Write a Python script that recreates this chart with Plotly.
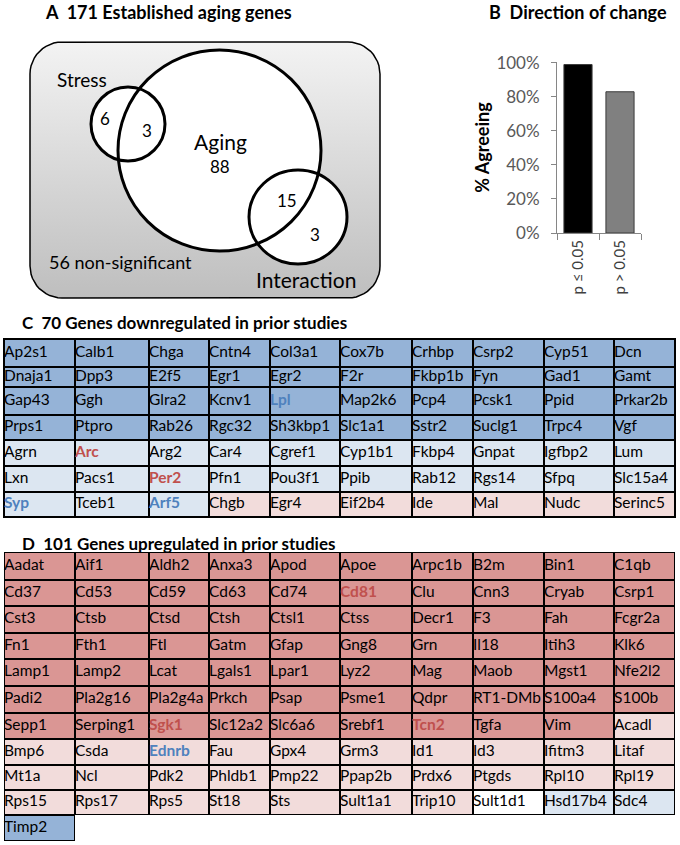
import math
import plotly.graph_objects as go

# ---- panel A: overlap of the 171 established aging genes ----
n_stress_only = 6
n_stress_aging = 3
n_aging_only = 88
n_aging_interaction = 15
n_interaction_only = 3
n_nonsig = 56

# ---- panel B: direction of change ----
bar_labels = ['p ≤ 0.05', 'p > 0.05']
bar_agree = [0.99, 0.83]

# ---- panel C: genes downregulated in prior studies ----
down_sig_down = ['Ap2s1', 'Calb1', 'Chga', 'Cntn4', 'Col3a1', 'Cox7b', 'Crhbp', 'Csrp2', 'Cyp51', 'Dcn',
                 'Dnaja1', 'Dpp3', 'E2f5', 'Egr1', 'Egr2', 'F2r', 'Fkbp1b', 'Fyn', 'Gad1', 'Gamt',
                 'Gap43', 'Ggh', 'Glra2', 'Kcnv1', 'Lpl', 'Map2k6', 'Pcp4', 'Pcsk1', 'Ppid', 'Prkar2b',
                 'Prps1', 'Ptpro', 'Rab26', 'Rgc32', 'Sh3kbp1', 'Slc1a1', 'Sstr2', 'Suclg1', 'Trpc4', 'Vgf']
down_ns_down = ['Agrn', 'Arc', 'Arg2', 'Car4', 'Cgref1', 'Cyp1b1', 'Fkbp4', 'Gnpat', 'Igfbp2', 'Lum',
                'Lxn', 'Pacs1', 'Per2', 'Pfn1', 'Pou3f1', 'Ppib', 'Rab12', 'Rgs14', 'Sfpq', 'Slc15a4',
                'Syp', 'Tceb1', 'Arf5']
down_ns_up = ['Chgb', 'Egr4', 'Eif2b4', 'Ide', 'Mal', 'Nudc', 'Serinc5']

# ---- panel D: genes upregulated in prior studies ----
up_sig_up = ['Aadat', 'Aif1', 'Aldh2', 'Anxa3', 'Apod', 'Apoe', 'Arpc1b', 'B2m', 'Bin1', 'C1qb',
             'Cd37', 'Cd53', 'Cd59', 'Cd63', 'Cd74', 'Cd81', 'Clu', 'Cnn3', 'Cryab', 'Csrp1',
             'Cst3', 'Ctsb', 'Ctsd', 'Ctsh', 'Ctsl1', 'Ctss', 'Decr1', 'F3', 'Fah', 'Fcgr2a',
             'Fn1', 'Fth1', 'Ftl', 'Gatm', 'Gfap', 'Gng8', 'Grn', 'Il18', 'Itih3', 'Klk6',
             'Lamp1', 'Lamp2', 'Lcat', 'Lgals1', 'Lpar1', 'Lyz2', 'Mag', 'Maob', 'Mgst1', 'Nfe2l2',
             'Padi2', 'Pla2g16', 'Pla2g4a', 'Prkch', 'Psap', 'Psme1', 'Qdpr', 'RT1-DMb', 'S100a4', 'S100b',
             'Sepp1', 'Serping1', 'Sgk1', 'Slc12a2', 'Slc6a6', 'Srebf1', 'Tcn2', 'Tgfa', 'Vim']
up_ns_up = ['Acadl',
            'Bmp6', 'Csda', 'Ednrb', 'Fau', 'Gpx4', 'Grm3', 'Id1', 'Id3', 'Ifitm3', 'Litaf',
            'Mt1a', 'Ncl', 'Pdk2', 'Phldb1', 'Pmp22', 'Ppap2b', 'Prdx6', 'Ptgds', 'Rpl10', 'Rpl19',
            'Rps15', 'Rps17', 'Rps5', 'St18', 'Sts', 'Sult1a1', 'Trip10']
up_nochange = ['Sult1d1']
up_ns_down = ['Hsd17b4', 'Sdc4']
up_sig_down = ['Timp2']

# genes written in coloured bold
mark_red = ['Arc', 'Per2', 'Cd81', 'Sgk1', 'Tcn2']
mark_blue = ['Lpl', 'Syp', 'Arf5', 'Ednrb']

# ---- styling / layout ----
W, H = 680, 845
FONT = 'Lato'
COL_EDGES = [4, 75, 149, 209, 270, 340, 412, 473, 544, 614, 675]
ROWS_C = [339, 367, 387, 415, 440, 466, 492, 517]
ROWS_D = [552, 580, 606, 633, 659, 686, 713, 739, 765, 790, 815, 841]
# 0 white, 1 dark blue, 2 light blue, 3 light pink, 4 dark red
CELL_SCALE = [[0, '#ffffff'], [0.125, '#ffffff'],
              [0.125, '#95b3d7'], [0.375, '#95b3d7'],
              [0.375, '#dce6f1'], [0.625, '#dce6f1'],
              [0.625, '#f2dcdb'], [0.875, '#f2dcdb'],
              [0.875, '#da9694'], [1, '#da9694']]


def px_x(x):
    return x / W


def px_y(y):
    return 1 - y / H


def vy(y):
    # venn axis runs upward, measured positions run downward
    return 310 - y


fig = go.Figure()

# ---------- panel A ----------
r = 32
x0, x1, y0, y1 = 30, 380, 42, 298
bx, by = [], []
for cx, cy, a0 in [(x1 - r, y0 + r, 0), (x0 + r, y0 + r, 90), (x0 + r, y1 - r, 180), (x1 - r, y1 - r, 270)]:
    for k in range(13):
        a = math.radians(a0 + 90 * k / 12)
        bx.append(cx + r * math.cos(a))
        by.append(vy(cy - r * math.sin(a)))
bx.append(bx[0])
by.append(by[0])
fig.add_trace(go.Scatter(
    x=bx, y=by, mode='lines', fill='toself',
    line=dict(color='black', width=1.5),
    fillgradient=dict(type='vertical', colorscale=[[0, '#bebebe'], [1, '#f3f3f3']],
                      start=vy(y1), stop=vy(y0)),
    hoverinfo='skip', showlegend=False,
    xaxis='x', yaxis='y',
))

circles = [(91, 165, 87, 161), (118, 321, 50, 251), (249, 347, 170, 264)]
for c in circles:
    fig.add_shape(type='circle', xref='x', yref='y', x0=c[0], x1=c[1], y0=vy(c[3]), y1=vy(c[2]),
                  fillcolor='white', line=dict(width=0))
for c in circles:
    fig.add_shape(type='circle', xref='x', yref='y', x0=c[0], x1=c[1], y0=vy(c[3]), y1=vy(c[2]),
                  fillcolor='rgba(0,0,0,0)', line=dict(color='black', width=3))

venn_text = [
    ('Stress', 82, 79, 19, 'center'),
    (str(n_stress_only), 105, 118, 17, 'center'),
    (str(n_stress_aging), 147, 130, 17, 'center'),
    ('Aging', 220, 141, 21, 'center'),
    (str(n_aging_only), 220, 166, 17, 'center'),
    (str(n_aging_interaction), 287, 200, 17, 'center'),
    (str(n_interaction_only), 315, 234, 17, 'center'),
    ('%d non-significant' % n_nonsig, 47, 262, 18, 'left'),
    ('Interaction', 306, 279, 21, 'center'),
]
for txt, x, y, size, anchor in venn_text:
    fig.add_annotation(x=x, y=vy(y), xref='x', yref='y', text=txt, showarrow=False,
                       xanchor=anchor, yanchor='middle',
                       font=dict(family=FONT, size=size, color='black'))

# ---------- panel B ----------
fig.add_trace(go.Bar(
    x=bar_labels, y=bar_agree,
    marker=dict(color=['#000000', '#808080'], line=dict(color='#3a3a3a', width=1)),
    xaxis='x2', yaxis='y2', showlegend=False, hoverinfo='skip',
))


# ---------- panels C and D ----------
def add_gene_table(groups, row_edges, xa, ya):
    n_rows = len(row_edges) - 1
    z = [[None] * 10 for _ in range(n_rows)]
    frame = [[None] * 10 for _ in range(n_rows)]
    tx, ty, tt, tc = [], [], [], []
    i = 0
    for genes, code in groups:
        for g in genes:
            row, col = divmod(i, 10)
            z[row][col] = code
            frame[row][col] = 1
            tx.append(COL_EDGES[col])
            ty.append((row_edges[row] + row_edges[row + 1]) / 2)
            if g in mark_red:
                tt.append('<b>%s</b>' % g)
                tc.append('#c0504d')
            elif g in mark_blue:
                tt.append('<b>%s</b>' % g)
                tc.append('#4f81bd')
            else:
                tt.append(g)
                tc.append('black')
            i += 1
    fig.add_trace(go.Heatmap(x=COL_EDGES, y=row_edges, z=frame,
                             colorscale=[[0, 'black'], [1, 'black']], showscale=False,
                             hoverinfo='skip', xaxis=xa, yaxis=ya))
    fig.add_trace(go.Heatmap(x=COL_EDGES, y=row_edges, z=z, zmin=0, zmax=4,
                             colorscale=CELL_SCALE, showscale=False, xgap=2, ygap=2,
                             hoverinfo='skip', xaxis=xa, yaxis=ya))
    fig.add_trace(go.Scatter(x=tx, y=ty, text=tt, mode='text', textposition='middle right',
                             textfont=dict(family=FONT, size=15.5, color=tc),
                             cliponaxis=False, showlegend=False, hoverinfo='skip',
                             xaxis=xa, yaxis=ya))


add_gene_table([(down_sig_down, 1), (down_ns_down, 2), (down_ns_up, 3)], ROWS_C, 'x3', 'y3')
add_gene_table([(up_sig_up, 4), (up_ns_up, 3), (up_nochange, 0), (up_ns_down, 2), (up_sig_down, 1)],
               ROWS_D, 'x4', 'y4')

# ---------- titles ----------
titles = [
    ('A\u00a0 171 Established aging genes', 43, 12, 18),
    ('B\u00a0 Direction of change', 487, 12, 18),
    ('C\u00a0 70 Genes downregulated in prior studies', 20, 322, 17),
    ('D\u00a0 101 Genes upregulated in prior studies', 20, 543, 17),
]
for txt, x, y, size in titles:
    fig.add_annotation(x=px_x(x), y=px_y(y), xref='paper', yref='paper', text='<b>%s</b>' % txt,
                       showarrow=False, xanchor='left', yanchor='middle',
                       font=dict(family=FONT, size=size, color='black'))

hidden = dict(visible=False, fixedrange=True, automargin=False)
table_axis = dict(showline=True, mirror=True, linecolor='black', linewidth=1, showticklabels=False,
                  ticks='', showgrid=False, zeroline=False, fixedrange=True, automargin=False)
fig.update_layout(
    width=W, height=H,
    margin=dict(l=0, r=0, t=0, b=0, autoexpand=False),
    paper_bgcolor='white', plot_bgcolor='rgba(0,0,0,0)',
    hovermode=False, showlegend=False,
    font=dict(family=FONT),
    xaxis=dict(domain=[0, px_x(400)], range=[0, 400], anchor='y', **hidden),
    yaxis=dict(domain=[px_y(310), 1], range=[0, 310], anchor='x', **hidden),
    xaxis2=dict(domain=[px_x(557), px_x(641)], anchor='y2', showline=True, linecolor='#868686',
                linewidth=1, ticks='outside', tickson='boundaries', ticklen=6, tickcolor='#868686',
                tickangle=-90, tickfont=dict(family=FONT, size=15, color='#404040'),
                showgrid=False, fixedrange=True, automargin=False),
    yaxis2=dict(domain=[px_y(233), px_y(62)], anchor='x2', range=[0, 1.005], dtick=0.2,
                tickformat='.0%', showline=True, linecolor='#868686', linewidth=1, ticks='outside',
                ticklen=5, tickcolor='#868686', ticklabelstandoff=8,
                tickfont=dict(family=FONT, size=17, color='#595959'),
                showgrid=False, zeroline=False, fixedrange=True, automargin=False,
                title=dict(text='<b>% Agreeing</b>', standoff=2,
                           font=dict(family=FONT, size=18, color='black'))),
    bargap=0.33,
    xaxis3=dict(domain=[px_x(4), px_x(675)], range=[4, 675], anchor='y3', **table_axis),
    yaxis3=dict(domain=[px_y(517), px_y(339)], range=[517, 339], anchor='x3', **table_axis),
    xaxis4=dict(domain=[px_x(4), px_x(675)], range=[4, 675], anchor='y4', **hidden),
    yaxis4=dict(domain=[px_y(841), px_y(552)], range=[841, 552], anchor='x4', **hidden),
)

fig.write_html('out.html', config={'displayModeBar': False},
               post_script="document.body.style.margin='0';")
